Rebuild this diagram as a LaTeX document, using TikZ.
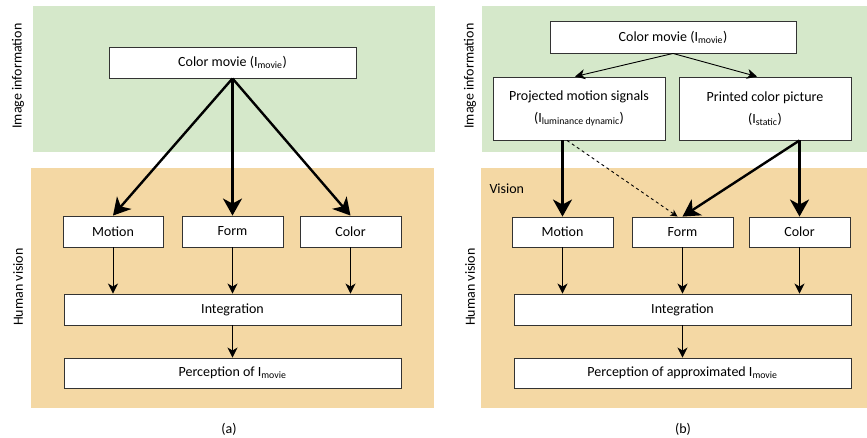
\documentclass[tikz,border=0pt]{standalone}
\usepackage{fontspec}
\setmainfont{Carlito}
\usetikzlibrary{arrows.meta}
\definecolor{imggreen}{HTML}{D5E8CA}
\definecolor{visorange}{HTML}{F4D8A4}
\definecolor{boxline}{HTML}{333333}

\begin{document}
\begin{tikzpicture}
  [x=1pt,y=-1pt,>={Stealth[length=10pt,width=10pt,inset=3pt]},
   font=\fontsize{14}{16}\selectfont,
   box/.style={draw=boxline,fill=white,line width=0.9pt,inner sep=0pt,minimum height=31pt,align=center},
   bigarrow/.style={line width=2.4pt,-{Stealth[length=17pt,width=19pt,inset=5pt]}},
   thinarrow/.style={line width=0.9pt,->},
   sidelabel/.style={rotate=90,anchor=center},]

\useasboundingbox (0,0) rectangle (867,437);

% backgrounds
\fill[imggreen] (33,6) rectangle (435,152);
\fill[visorange] (31,168) rectangle (434,408);
\fill[imggreen] (482,6) rectangle (867,152);
\fill[visorange] (481,168) rectangle (867,408);

% panel (a)
\node[sidelabel] (imginfo_a) at (18,76) {Image information};
\node[sidelabel] (human_a) at (18,287) {Human vision};

\node[box,minimum width=247pt] (cm_a) at (232.5,62.5) {Color movie (I\textsubscript{movie})};
\node[box,minimum width=100pt] (mo_a) at (113,231.5) {Motion};
\node[box,minimum width=101pt] (fo_a) at (232.5,231.5) {Form};
\node[box,minimum width=101pt] (co_a) at (350.5,231.5) {Color};
\node[box,minimum width=337pt] (in_a) at (232.5,309.5) {Integration};
\node[box,minimum width=337pt,minimum height=30pt] (pe_a) at (232.5,373) {Perception of I\textsubscript{movie}};

\foreach \n in {mo_a,fo_a,co_a}
\draw[bigarrow] (cm_a.south) -- (\n.north);
\foreach \n in {mo_a,fo_a,co_a}
\draw[thinarrow] (\n.south) -- (\n.south |- in_a.north);
\draw[thinarrow] (in_a) -- (pe_a);

\node (cap_a) at (229,429) {(a)};

% panel (b)
\node[sidelabel] (imginfo_b) at (470,76) {Image information};
\node[sidelabel] (human_b) at (470,287) {Human vision};
\node[anchor=west] (vision_b) at (486,189) {Vision};

\node[box,minimum width=246pt,minimum height=32pt] (cm_b) at (673,37) {Color movie (I\textsubscript{movie})};
\node[box,minimum width=172pt,minimum height=63pt] (pr_b) at (579,108.5)
  {Projected motion signals\\[6pt](I\textsubscript{luminance dynamic})};
\node[box,minimum width=172pt,minimum height=63pt] (pc_b) at (765,108.5)
  {Printed color picture\\[6pt](I\textsubscript{static})};
\node[box,minimum width=101pt,minimum height=30pt] (mo_b) at (562.5,232) {Motion};
\node[box,minimum width=101pt,minimum height=30pt] (fo_b) at (682.5,232) {Form};
\node[box,minimum width=101pt,minimum height=30pt] (co_b) at (799.5,232) {Color};
\node[box,minimum width=337pt] (in_b) at (682.5,309.5) {Integration};
\node[box,minimum width=337pt,minimum height=30pt] (pe_b) at (682.5,373) {Perception of approximated I\textsubscript{movie}};

\draw[thinarrow] (cm_b.south) -- ([xshift=-4pt]pr_b.north);
\draw[thinarrow] (cm_b.south) -- ([xshift=-8pt]pc_b.north);
\draw[bigarrow] (mo_b.north |- pr_b.south) -- (mo_b.north);
\draw[line width=0.9pt,dashed,-{Stealth[length=7pt,width=7pt,inset=2pt]}] ([xshift=-12pt]pr_b.south) -- ([xshift=-5pt]fo_b.north);
\draw[bigarrow] (co_b.north |- pc_b.south) -- (fo_b.north);
\draw[bigarrow] (co_b.north |- pc_b.south) -- (co_b.north);
\foreach \n in {mo_b,fo_b,co_b}
\draw[thinarrow] (\n.south) -- (\n.south |- in_b.north);
\draw[thinarrow] (in_b) -- (pe_b);

\node (cap_b) at (683,429) {(b)};

\end{tikzpicture}
\end{document}
